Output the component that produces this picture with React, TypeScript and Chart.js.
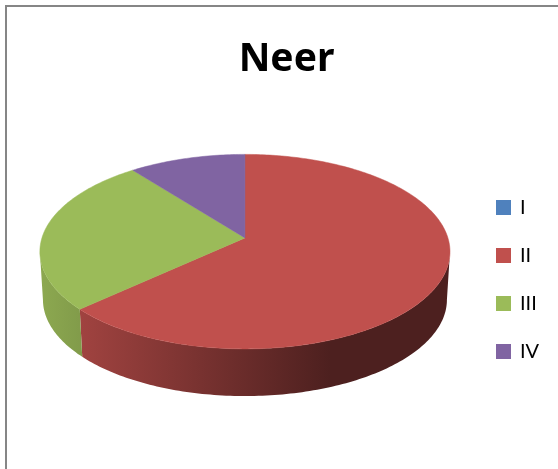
import React, { useEffect, useRef } from "react";
import { Chart, registerables } from "chart.js";

Chart.register(...registerables);

const categories = ["I", "II", "III", "IV"];
const cases = [0, 60, 25, 10];
const sliceColors = ["#4f81bd", "#c0504d", "#9bbb59", "#8064a2"];

const TITLE_FONT = "'Noto Sans', sans-serif";
const LEGEND_FONT = "Lato, 'Noto Sans', sans-serif";

// Perspective of the tilted disc, relative to the radius Chart.js gives each arc.
const VIEW = {
  halfWidth: 1.38,
  halfDepth: 0.648,
  foreshorten: 0.1414,
  thickness: 0.328,
  baseScaleX: 0.985,
  baseScaleY: 0.99,
};

const rgb = (hex: string) => [1, 3, 5].map((i) => parseInt(hex.slice(i, i + 2), 16));
const shade = (hex: string, f: number) => `rgb(${rgb(hex).map((c) => Math.round(c * f)).join(",")})`;

// Rim lighting runs left to right across the whole disc.
const rimStops: [number, number][] = [
  [0, 0.9],
  [0.71, 0.4],
  [1, 0.4],
];

const project = (arc: any, theta: number, base: boolean) => {
  const u = Math.cos(theta);
  const v = Math.sin(theta);
  const r = arc.outerRadius;
  const w = 1 - VIEW.foreshorten * v;
  const sx = base ? VIEW.baseScaleX : 1;
  const sy = base ? VIEW.baseScaleY : 1;
  return {
    x: arc.x + (sx * VIEW.halfWidth * r * u) / w,
    y: arc.y + (base ? VIEW.thickness * r : 0) + (sy * VIEW.halfDepth * r * v) / w,
  };
};

const sweep = (from: number, to: number) => {
  const steps = Math.max(2, Math.ceil(((to - from) * 180) / Math.PI));
  return Array.from({ length: steps + 1 }, (_, i) => from + ((to - from) * i) / steps);
};

const tiltedPie = {
  id: "tiltedPie",
  // Moves the legend column and title off the chart area's own centre line.
  afterLayout(chart: any) {
    const legend = chart.legend;
    const pad = legend.options.labels.padding;
    const width = legend.right - legend.left;
    const height = legend.bottom - legend.top;
    legend.left = 497 - pad;
    legend.right = legend.left + width;
    legend.top = 197.5 - pad;
    legend.bottom = legend.top + height;
    chart.titleBlock.left += 1.5;
    chart.titleBlock.right += 1.5;
  },
  beforeDatasetDraw(chart: any, args: any) {
    const { ctx } = chart;
    const arcs = args.meta.data.filter((a: any) => a.endAngle - a.startAngle > 0);
    const span = VIEW.halfWidth * arcs[0].outerRadius;
    // The widest points of the projected disc sit just below its middle.
    const tangent = Math.asin(VIEW.foreshorten);

    ctx.save();
    // Rim first: the band between the top edge and the base edge, near side only.
    arcs.forEach((arc: any) => {
      const color = sliceColors[arc.$context.index];
      const from = Math.max(arc.startAngle, tangent);
      const to = Math.min(arc.endAngle, Math.PI - tangent);
      if (to <= from) return;
      const gradient = ctx.createLinearGradient(arc.x - span, 0, arc.x + span, 0);
      rimStops.forEach(([at, f]) => gradient.addColorStop(at, shade(color, f)));
      const angles = sweep(from, to);
      ctx.beginPath();
      angles.forEach((t: number, i: number) => {
        const p = project(arc, t, false);
        if (i === 0) ctx.moveTo(p.x, p.y);
        else ctx.lineTo(p.x, p.y);
      });
      [...angles].reverse().forEach((t: number) => {
        const p = project(arc, t, true);
        ctx.lineTo(p.x, p.y);
      });
      ctx.closePath();
      ctx.fillStyle = gradient;
      ctx.fill();
    });
    // Top faces meet at the projected centre of the disc.
    arcs.forEach((arc: any) => {
      const color = sliceColors[arc.$context.index];
      ctx.beginPath();
      ctx.moveTo(arc.x, arc.y);
      sweep(arc.startAngle, arc.endAngle).forEach((t: number) => {
        const p = project(arc, t, false);
        ctx.lineTo(p.x, p.y);
      });
      ctx.closePath();
      ctx.fillStyle = color;
      ctx.strokeStyle = color;
      ctx.lineWidth = 0.5;
      ctx.fill();
      ctx.stroke();
    });
    ctx.restore();
    return false;
  },
};

export default function App() {
  const ref = useRef<HTMLCanvasElement>(null);

  useEffect(() => {
    const chart = new Chart(ref.current!, {
      type: "pie",
      data: {
        labels: categories,
        datasets: [
          {
            data: cases,
            backgroundColor: sliceColors,
            borderColor: sliceColors,
            borderWidth: 2,
          },
        ],
      },
      options: {
        animation: false,
        responsive: false,
        layout: { padding: { left: 19, right: 7, top: 0, bottom: 83 } },
        plugins: {
          title: {
            display: true,
            text: "Neer",
            color: "#000000",
            font: { family: TITLE_FONT, size: 39, weight: "bold" },
            padding: { top: 36, bottom: 7 },
          },
          legend: {
            position: "right",
            align: "start",
            labels: {
              boxWidth: 13,
              boxHeight: 13,
              padding: 28,
              color: "#000000",
              font: { family: LEGEND_FONT, size: 20 },
            },
          },
          tooltip: { enabled: false },
        },
      },
      plugins: [tiltedPie],
    } as any);
    return () => chart.destroy();
  }, []);

  return (
    <div style={{ position: "fixed", left: 0, top: 0, width: 558, height: 469, background: "#ffffff", overflow: "hidden" }}>
      <canvas ref={ref} width={558} height={469} style={{ display: "block" }} />
      <div
        style={{
          position: "absolute",
          left: 5,
          top: 5,
          right: 0,
          bottom: 0,
          borderLeft: "2px solid #868686",
          borderTop: "2px solid #868686",
        }}
      />
    </div>
  );
}
